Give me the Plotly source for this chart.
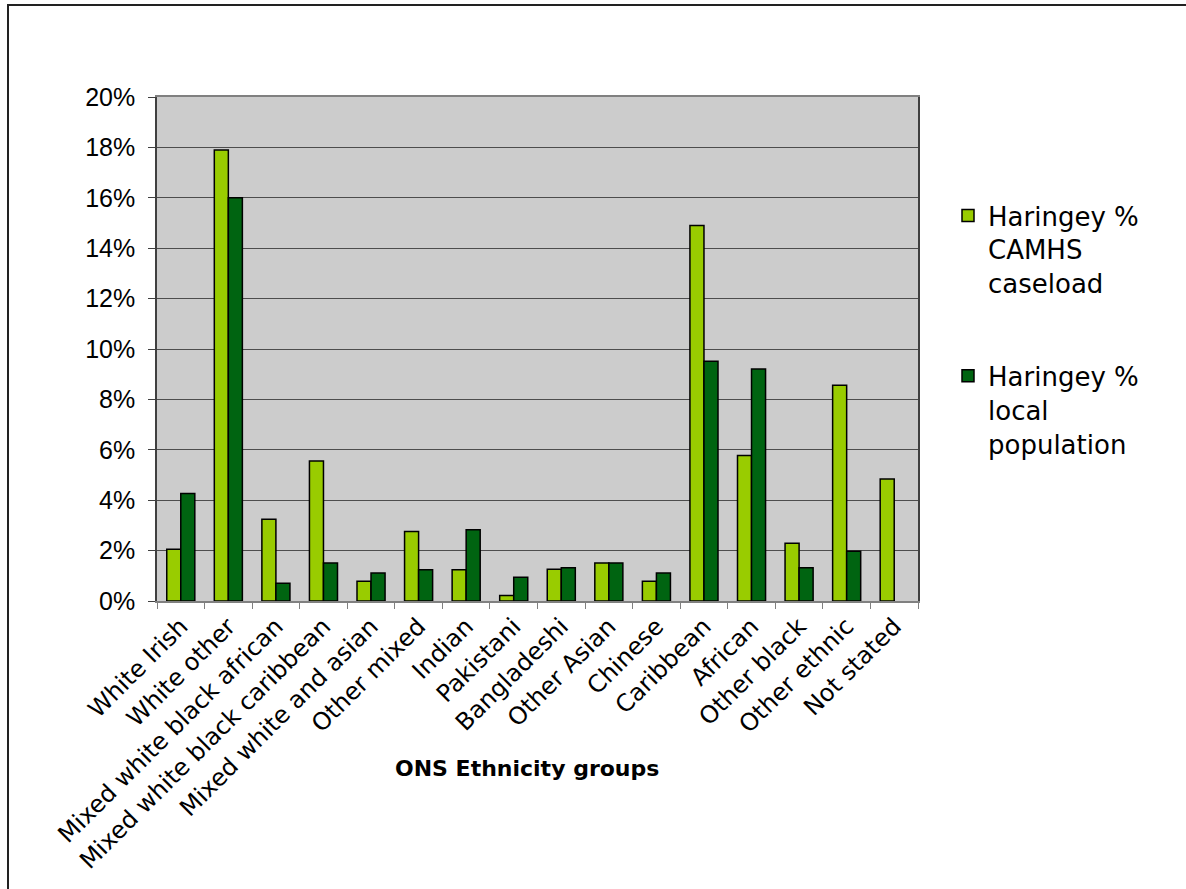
import plotly.graph_objects as go

# ONS ethnicity groups and the two percentage series
categories = [
    "White Irish", "White other", "Mixed white black african",
    "Mixed white black caribbean", "Mixed white and asian", "Other mixed",
    "Indian", "Pakistani", "Bangladeshi", "Other Asian", "Chinese",
    "Caribbean", "African", "Other black", "Other ethnic", "Not stated",
]
caseload_pct = [2.05, 17.9, 3.24, 5.56, 0.78, 2.76, 1.24, 0.22,
                1.26, 1.51, 0.78, 14.9, 5.77, 2.29, 8.56, 4.84]
population_pct = [4.27, 16.0, 0.70, 1.51, 1.11, 1.24, 2.83, 0.94,
                  1.32, 1.51, 1.11, 9.51, 9.21, 1.32, 1.97, None]
y_ticks = [0, 2, 4, 6, 8, 10, 12, 14, 16, 18, 20]
y_tick_labels = [f"{v}%" for v in y_ticks]

W, H = 1186, 889
L, R, T, B = 157, 918, 97, 601  # plot area in pixels


def px_x(p):
    return (p - L) / (R - L)


def px_y(p):
    return (B - p) / (B - T)


fig = go.Figure()
fig.add_trace(go.Bar(
    x=categories, y=caseload_pct,
    name="Haringey %<br>CAMHS<br>caseload",
    legendgroup="a",
    marker=dict(color="#99CC00", line=dict(color="#000000", width=1.5)),
))
fig.add_trace(go.Bar(
    x=categories, y=population_pct,
    name="Haringey %<br>local<br>population",
    legendgroup="b",
    marker=dict(color="#006411", line=dict(color="#000000", width=1.5)),
))

fig.update_layout(
    width=W, height=H,
    margin=dict(l=L, r=W - R, t=T, b=H - B, autoexpand=False),
    paper_bgcolor="white",
    plot_bgcolor="#CCCCCC",
    barmode="group",
    bargap=0.41,
    bargroupgap=0,
    font=dict(family="DejaVu Sans", size=22, color="#000000"),
    legend=dict(
        x=px_x(948), y=px_y(192), xanchor="left", yanchor="top",
        font=dict(family="DejaVu Sans", size=26, color="#000000"),
        tracegroupgap=56, valign="top",
        bgcolor="rgba(0,0,0,0)",
    ),
    showlegend=True,
    xaxis=dict(
        type="category",
        tickangle=-45,
        tickson="boundaries",
        ticks="outside", ticklen=6, tickcolor="#808080", tickwidth=1,
        showline=True, linecolor="#808080", linewidth=1.5, mirror=True,
        showgrid=False,
        tickfont=dict(family="DejaVu Sans", size=24, color="#000000"),
        automargin=False,
    ),
    yaxis=dict(
        range=[0, 20],
        tickvals=y_ticks, ticktext=y_tick_labels,
        ticks="outside", ticklen=7, tickcolor="#404040", tickwidth=1,
        ticklabelstandoff=8,
        showline=True, linecolor="#404040", linewidth=1.5, mirror=True,
        showgrid=True, gridcolor="#4d4d4d", gridwidth=1,
        zeroline=False,
        tickfont=dict(family="Liberation Sans", size=25, color="#000000"),
        automargin=False,
    ),
)

# x-axis title sits between the slanted category labels
fig.add_annotation(
    text="<b>ONS Ethnicity groups</b>",
    xref="paper", yref="paper", x=px_x(527), y=px_y(768),
    xanchor="center", yanchor="middle", showarrow=False,
    font=dict(family="DejaVu Sans", size=22, color="#000000"),
)

# outer chart frame (top and left edges visible)
fig.add_shape(
    type="rect", xref="paper", yref="paper",
    x0=px_x(8), y0=px_y(H + 20), x1=px_x(W + 20), y1=px_y(5),
    line=dict(color="#222222", width=2), fillcolor="rgba(0,0,0,0)",
    layer="below",
)

fig.write_html("out.html")
